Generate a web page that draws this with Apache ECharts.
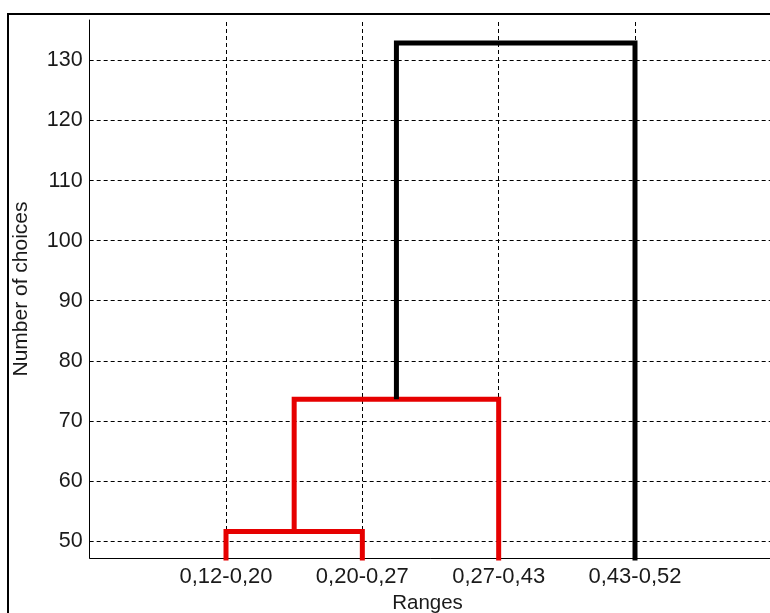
<!DOCTYPE html>
<html>
<head>
<meta charset="utf-8">
<script src="https://cdn.jsdelivr.net/npm/echarts@6/dist/echarts.min.js"></script>
<style>
html,body{margin:0;padding:0;background:#fff;}
#c{width:770px;height:613px;}
</style>
</head>
<body>
<div id="c"></div>
<script>
// Leaves (x positions 1..4)
const categories = ['0,12-0,20', '0,20-0,27', '0,27-0,43', '0,43-0,52'];
// Linkage: clusters 1..4 are leaves, new clusters numbered 5, 6, 7
const linkLeft = [1, 5, 6];
const linkRight = [2, 3, 4];
const linkHeight = [51.6, 73.6, 132.9];
const linkColor = ['#e60000', '#e60000', '#000000'];
const yTickValues = [50, 60, 70, 80, 90, 100, 110, 120, 130];
const yMin = 47.17, yMax = 136.74;
const xMin = 0, xMax = 5;

// node positions (x, height)
const nodeX = {}, nodeH = {};
categories.forEach((c, i) => { nodeX[i + 1] = i + 1; nodeH[i + 1] = 0; });
const series = linkHeight.map((h, k) => {
  const l = linkLeft[k], r = linkRight[k];
  const id = categories.length + k + 1;
  nodeX[id] = (nodeX[l] + nodeX[r]) / 2;
  nodeH[id] = h;
  return {
    type: 'line',
    data: [[nodeX[l], nodeH[l]], [nodeX[l], h], [nodeX[r], h], [nodeX[r], nodeH[r]]],
    showSymbol: false,
    symbol: 'none',
    clip: true,
    silent: true,
    lineStyle: { color: linkColor[k], width: 5, join: 'miter', cap: 'butt' },
    z: 5
  };
});

// grid lines drawn through the axes' scales
const gridStyle = { color: '#000', width: 1, type: [4, 3] };
series.push({
  type: 'line',
  data: [],
  silent: true,
  z: 1,
  markLine: {
    silent: true,
    symbol: ['none', 'none'],
    label: { show: false },
    animation: false,
    lineStyle: gridStyle,
    data: yTickValues.map(v => ({ yAxis: v }))
      .concat(categories.map((c, i) => ({ xAxis: i + 1 })))
  }
});

const font = 'Arial, "Liberation Sans", Helvetica, sans-serif';
const chart = echarts.init(document.getElementById('c'), null, { renderer: 'canvas' });
chart.setOption({
  animation: false,
  backgroundColor: '#ffffff',
  grid: { left: 89.67, top: 20, width: 681.67, height: 538, containLabel: false, outerBoundsMode: 'none' },
  xAxis: {
    type: 'value',
    min: xMin, max: xMax, interval: 1,
    name: 'Ranges',
    nameLocation: 'middle',
    nameGap: 33,
    nameTextStyle: { fontFamily: font, fontSize: 20.5, color: '#1a1a1a', padding: [0, 6, 0, 0] },
    axisLine: { show: true, onZero: false, lineStyle: { color: '#000', width: 1 } },
    axisTick: { show: false },
    axisLabel: {
      margin: 8,
      fontFamily: font, fontSize: 22, color: '#1a1a1a',
      customValues: [1, 2, 3, 4],
      formatter: v => (v >= 1 && v <= categories.length && Number.isInteger(v)) ? categories[v - 1] : ''
    },
    splitLine: { show: false }
  },
  yAxis: {
    type: 'value',
    min: yMin, max: yMax,
    name: 'Number of choices',
    nameLocation: 'middle',
    nameGap: 58,
    nameRotate: 90,
    nameTextStyle: { fontFamily: font, fontSize: 21, color: '#1a1a1a' },
    axisLine: { show: true, lineStyle: { color: '#000', width: 1 } },
    axisTick: { show: false },
    axisLabel: {
      margin: 7,
      fontFamily: font, fontSize: 21.5, color: '#1a1a1a',
      customValues: yTickValues,
      formatter: v => String(Math.round(v))
    },
    splitLine: { show: false }
  },
  graphic: [{
    type: 'polyline',
    shape: { points: [[8, 613], [8, 14], [770, 14]] },
    style: { stroke: '#000', lineWidth: 2, fill: null },
    silent: true
  }],
  series: series
});
</script>
</body>
</html>
